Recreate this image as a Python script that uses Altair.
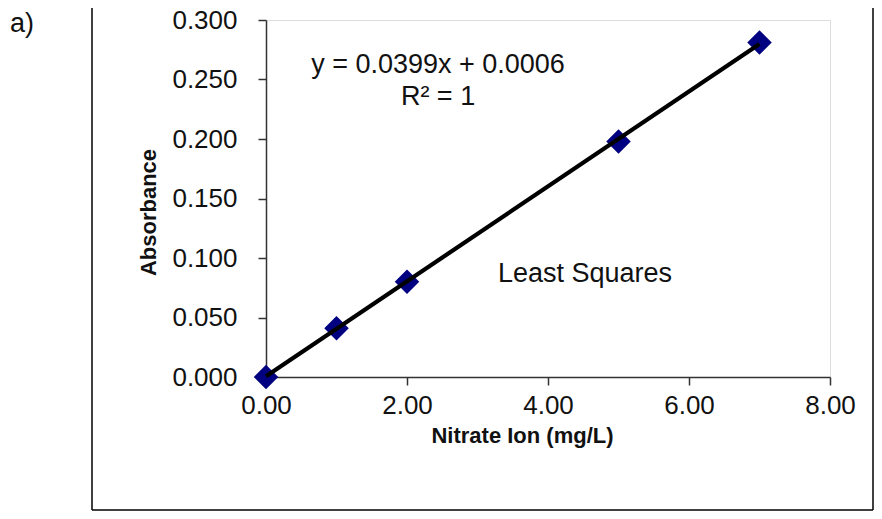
import altair as alt
import pandas as pd

# Data
conc = [0.0, 1.0, 2.0, 5.0, 7.0]
absorb = [0.000, 0.041, 0.080, 0.198, 0.281]

# Trendline (from the displayed equation)
slope = 0.0399
intercept = 0.0006
trend_x = [0.0, 7.0]

x_ticks = [0, 2, 4, 6, 8]
y_ticks = [0.0, 0.05, 0.10, 0.15, 0.20, 0.25, 0.30]

FONT = "Liberation Sans"

pts = pd.DataFrame({"x": conc, "y": absorb})
trend = pd.DataFrame({"x": trend_x, "y": [slope * v + intercept for v in trend_x]})

xs = alt.Scale(domain=[0, 8], nice=False, zero=False)
ys = alt.Scale(domain=[0, 0.3], nice=False, zero=False)

x_axis = alt.Axis(
    values=x_ticks, format=".2f", title="Nitrate Ion (mg/L)", grid=False,
    tickSize=8, labelPadding=7, labelFontSize=26, labelFont=FONT, labelColor="#111",
    labelFlush=False, labelOverlap=False,
    titleFontSize=22, titleFont=FONT, titleFontWeight="bold", titleColor="#111",
    titleX=256, titleY=65, titleBaseline="alphabetic", titleAlign="center", titleAnchor="start",
    domainColor="#333", tickColor="#333", domainWidth=1.5, tickWidth=1.5,
)
y_axis = alt.Axis(
    values=y_ticks, format=".3f", title="Absorbance", grid=False,
    tickSize=8, labelPadding=21, labelFontSize=26, labelFont=FONT, labelColor="#111",
    labelFlush=False, labelOverlap=False,
    titleFontSize=22, titleFont=FONT, titleFontWeight="bold", titleColor="#111",
    titleX=-111, titleY=192, titleAngle=270, titleBaseline="alphabetic", titleAlign="center",
    titleAnchor="start",
    domainColor="#333", tickColor="#333", domainWidth=1.5, tickWidth=1.5,
)

base = alt.Chart(pts)

points = base.mark_point(shape="diamond", filled=True, size=600, color="#000080", opacity=1).encode(
    x=alt.X("x:Q", scale=xs, axis=x_axis),
    y=alt.Y("y:Q", scale=ys, axis=y_axis),
)

line = alt.Chart(trend).mark_line(color="#000000", strokeWidth=4.2).encode(
    x=alt.X("x:Q", scale=xs),
    y=alt.Y("y:Q", scale=ys),
)

ann = pd.DataFrame({
    "x": [2.44, 2.44, 3.29],
    "y": [0.2555, 0.2286, 0.0798],
    "t": ["y = 0.0399x + 0.0006", "R\u00b2 = 1", "Least Squares"],
})
eq = alt.Chart(ann.iloc[:2]).mark_text(
    font=FONT, fontSize=27, align="center", baseline="alphabetic", color="#111"
).encode(x=alt.X("x:Q", scale=xs), y=alt.Y("y:Q", scale=ys), text="t:N")
ls = alt.Chart(ann.iloc[2:]).mark_text(
    font=FONT, fontSize=27, align="left", baseline="alphabetic", color="#111"
).encode(x=alt.X("x:Q", scale=xs), y=alt.Y("y:Q", scale=ys), text="t:N")

label_a = alt.Chart(pd.DataFrame({"t": ["a)"]})).mark_text(
    font=FONT, fontSize=27, align="left", baseline="alphabetic", color="#111"
).encode(x=alt.value(-256), y=alt.value(12), text="t:N")

frame_df = pd.DataFrame({"k": [0]})
frame_left = alt.Chart(frame_df).mark_rule(color="#000", strokeWidth=1.5).encode(
    x=alt.value(-174), y=alt.value(-20), y2=alt.value(490))
frame_right = alt.Chart(frame_df).mark_rule(color="#000", strokeWidth=1.5).encode(
    x=alt.value(607), y=alt.value(-20), y2=alt.value(490))
frame_bottom = alt.Chart(frame_df).mark_rule(color="#000", strokeWidth=1.5).encode(
    x=alt.value(-174), x2=alt.value(607), y=alt.value(490))

chart = alt.layer(
    frame_left, frame_right, frame_bottom, points, line, eq, ls, label_a
).properties(
    width=564, height=357,
    autosize=alt.AutoSizeParams(type="none"),
    padding={"left": 258, "top": 12, "right": 44, "bottom": 134},
).configure_view(
    stroke="#8c8c8c", strokeWidth=1.5
).configure(background="white")

chart.save("out.html", embed_options={"renderer": "svg", "actions": False})
